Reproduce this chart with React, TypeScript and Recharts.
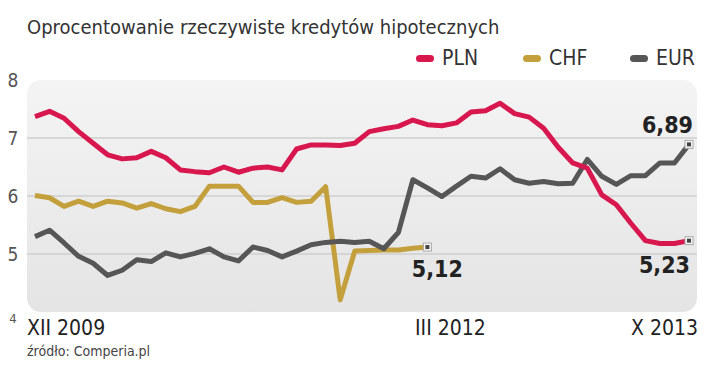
import { LineChart, Line, XAxis, YAxis, ReferenceLine, ReferenceArea, LabelList } from 'recharts';

// Oprocentowanie rzeczywiste kredytów hipotecznych, XII 2009 – X 2013 (monthly)
const pln = [
  7.37, 7.46, 7.34, 7.11, 6.91, 6.71, 6.64, 6.66, 6.77, 6.66, 6.45, 6.42, 6.4, 6.5, 6.41, 6.48,
  6.5, 6.45, 6.81, 6.88, 6.88, 6.87, 6.91, 7.11, 7.16, 7.2, 7.31, 7.23, 7.21, 7.26, 7.45, 7.47,
  7.6, 7.42, 7.36, 7.17, 6.84, 6.57, 6.48, 6.02, 5.85, 5.53, 5.23, 5.18, 5.18, 5.23,
];
const chf = [
  6.01, 5.97, 5.82, 5.91, 5.82, 5.91, 5.88, 5.79, 5.87, 5.78, 5.73, 5.82, 6.17, 6.17, 6.17, 5.89,
  5.89, 5.97, 5.89, 5.91, 6.16, 4.21, 5.05, 5.06, 5.07, 5.07, 5.1, 5.12,
];
const eur = [
  5.3, 5.41, 5.19, 4.96, 4.84, 4.63, 4.72, 4.9, 4.87, 5.02, 4.95, 5.01, 5.09, 4.95, 4.88, 5.12,
  5.06, 4.95, 5.05, 5.16, 5.2, 5.22, 5.2, 5.22, 5.09, 5.37, 6.28, 6.14, 5.99, 6.17, 6.34, 6.31,
  6.47, 6.28, 6.22, 6.25, 6.21, 6.22, 6.63, 6.34, 6.2, 6.35, 6.35, 6.57, 6.57, 6.89,
];
const xTicks = [0, 27, 45];
const xTickLabels = ['XII 2009', 'III 2012', 'X 2013'];
const yTicks = [4, 5, 6, 7, 8];
const gridValues = [5, 6, 7];

const data = pln.map((v, i) => ({
  i,
  pln: v,
  chf: i < chf.length ? chf[i] : null,
  eur: eur[i],
}));

const FONT = "'DejaVu Sans Condensed', 'Liberation Sans Narrow', 'Roboto', sans-serif";
const RED = '#d8174e';
const GOLD = '#c4a03c';
const GREY = '#565656';

const series = [
  { key: 'pln', name: 'PLN', color: RED },
  { key: 'chf', name: 'CHF', color: GOLD },
  { key: 'eur', name: 'EUR', color: GREY },
];

const fmt = (v: number) => v.toFixed(2).replace('.', ',');

function endDot(lastIndex: number) {
  return (props: any) => {
    const { cx, cy, index } = props;
    if (index !== lastIndex || cx == null || cy == null) return <g key={`d${index}`} />;
    return (
      <g key={`d${index}`}>
        <rect x={cx - 4} y={cy - 4} width={8} height={8} fill="#f4f4f4" stroke="#aaa" strokeWidth={1} />
        <rect x={cx - 2} y={cy - 2} width={4} height={4} fill="#444" />
      </g>
    );
  };
}

function endLabel(lastIndex: number, dx: number, dy: number, anchor: 'start' | 'middle' | 'end') {
  return (props: any) => {
    const { x, y, index, value } = props;
    if (index !== lastIndex || value == null) return null;
    return (
      <text x={x + dx} y={y + dy} textAnchor={anchor} fontFamily={FONT} fontWeight={700} fontSize={23} fill="#222">
        {fmt(value)}
      </text>
    );
  };
}

// rounded grey panel behind the plot, widened over the axis padding
function Panel(props: any) {
  const { x, y, width, height } = props;
  return (
    <g>
      <defs>
        <linearGradient id="panelGrad" x1="0" y1="0" x2="0" y2="1">
          <stop offset="0%" stopColor="#f4f4f4" />
          <stop offset="100%" stopColor="#e4e4e4" />
        </linearGradient>
      </defs>
      <rect x={x - 8} y={y} width={width + 16} height={height} rx={14} ry={14} fill="url(#panelGrad)" />
    </g>
  );
}

function YTick(props: any) {
  const { y, payload } = props;
  const small = payload.value === 4;
  return (
    <text x={13} y={small ? y + 11 : y + 7} textAnchor="middle" fontFamily={FONT} fontSize={small ? 13 : 19} fill="#555">
      {payload.value}
    </text>
  );
}

function XTick(props: any) {
  const { x, y, payload } = props;
  const k = xTicks.indexOf(payload.value);
  const anchor = k === 0 ? 'start' : k === 2 ? 'end' : 'middle';
  const tx = k === 0 ? 27 : k === 2 ? 698 : x + 23;
  return (
    <text x={tx} y={y + 15} textAnchor={anchor} fontFamily={FONT} fontSize={21} fill="#222">
      {xTickLabels[k]}
    </text>
  );
}

export default function App() {
  return (
    <div style={{ position: 'absolute', left: 0, top: 0, width: 720, height: 371, background: '#fff', overflow: 'hidden', fontFamily: FONT }}>
      <div style={{ position: 'absolute', left: 27, top: 15, fontSize: 20, fontWeight: 300, color: '#333', whiteSpace: 'nowrap' }}>
        Oprocentowanie rzeczywiste kredytów hipotecznych
      </div>
      <div style={{ position: 'absolute', left: 0, top: 46, width: 720, height: 24 }}>
        {series.map((s, k) => (
          <div key={s.key} style={{ position: 'absolute', left: 416 + k * 107, top: 0, display: 'flex', alignItems: 'center', height: 24 }}>
            <span style={{ display: 'inline-block', width: 18, height: 7, borderRadius: 4, background: s.color, marginRight: 8 }} />
            <span style={{ fontSize: 21, fontWeight: 300, color: '#333' }}>{s.name}</span>
          </div>
        ))}
      </div>
      <div style={{ position: 'absolute', left: 27, top: 343, fontSize: 14, color: '#444' }}>źródło: Comperia.pl</div>
      <div style={{ position: 'absolute', left: 0, top: 0 }}>
        <LineChart width={720} height={371} data={data} margin={{ top: 80, right: 23, bottom: 29, left: 0 }}>
          <XAxis
            dataKey="i"
            type="number"
            domain={[0, 45]}
            ticks={xTicks}
            tick={<XTick />}
            axisLine={false}
            tickLine={false}
            height={30}
            padding={{ left: 8, right: 8 }}
            interval={0}
          />
          <YAxis width={27} domain={[4, 8]} ticks={yTicks} tick={<YTick />} axisLine={false} tickLine={false} />
          <ReferenceArea x1={0} x2={45} y1={4} y2={8} shape={<Panel />} />
          {gridValues.map((g) => (
            <ReferenceLine key={g} y={g} stroke="#cfcfcf" strokeWidth={1.5} />
          ))}
          <Line
            dataKey="chf"
            stroke={GOLD}
            strokeWidth={5}
            strokeLinejoin="round"
            dot={endDot(chf.length - 1)}
            activeDot={false}
            connectNulls={false}
            isAnimationActive={false}
          >
            <LabelList dataKey="chf" content={endLabel(chf.length - 1, 10, 30, 'middle')} />
          </Line>
          <Line
            dataKey="eur"
            stroke={GREY}
            strokeWidth={5}
            strokeLinejoin="round"
            dot={endDot(eur.length - 1)}
            activeDot={false}
            isAnimationActive={false}
          >
            <LabelList dataKey="eur" content={endLabel(eur.length - 1, 4, -11, 'end')} />
          </Line>
          <Line
            dataKey="pln"
            stroke={RED}
            strokeWidth={5}
            strokeLinejoin="round"
            dot={endDot(pln.length - 1)}
            activeDot={false}
            isAnimationActive={false}
          >
            <LabelList dataKey="pln" content={endLabel(pln.length - 1, 1, 32, 'end')} />
          </Line>
        </LineChart>
      </div>
    </div>
  );
}
